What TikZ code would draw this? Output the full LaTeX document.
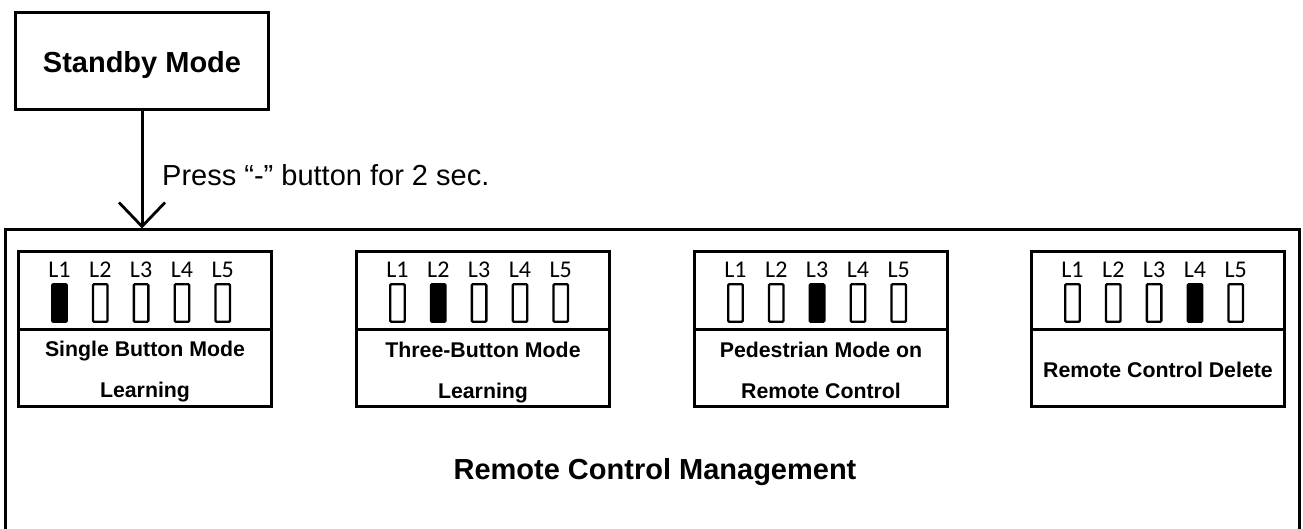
\documentclass[tikz,border=0pt]{standalone}
\usepackage{fontspec}
\setmainfont{Liberation Sans}
\newfontfamily\ledfont{Carlito}
\usetikzlibrary{arrows.meta}
\begin{document}
\begin{tikzpicture}[x=1pt,y=-1pt,
  box/.style={draw, line width=3pt, inner sep=0pt},
  ledbox/.style={draw, line width=2.3pt, minimum width=14.5pt, minimum height=37.5pt, inner sep=0pt, rounded corners=1pt},
  ledon/.style={ledbox, fill=black},
  ledlabel/.style={font=\ledfont\fontsize{24pt}{26pt}\selectfont, anchor=base, inner sep=0pt},
  cardtext/.style={font=\fontsize{21.3pt}{23pt}\selectfont\bfseries, anchor=base, inner sep=0pt},
  bigtext/.style={font=\fontsize{29pt}{31pt}\selectfont\bfseries, anchor=base, inner sep=0pt},
  flow/.style={line width=3pt, -{Straight Barb[length=24pt, width=46pt, line width=2.8pt]}}
]
\useasboundingbox (0,0) rectangle (1303,529);
\fill[white] (0,0) rectangle (1303,529);

% standby box
\node[box, minimum width=253pt, minimum height=97pt] (sb) at (142,61) {};
\node[bigtext] (sbt) at (142,73) {Standby Mode};

% management box
\node[box, minimum width=1294pt, minimum height=304pt] (mg) at (652,382) {};
\node[font=\fontsize{29pt}{31pt}\selectfont\bfseries, anchor=base, inner sep=0pt] (mgt) at (655,479) {Remote Control Management};

% connector
\draw[flow] (sb.south) -- (sb.south |- mg.north);
\node[font=\fontsize{29pt}{31pt}\selectfont, anchor=base west, inner sep=0pt] (lbl) at (162,186) {Press “-” button for 2 sec.};

% cards
\foreach \i/\x in {1/17,2/355,3/693,4/1030}{
  \node[box, minimum width=253pt, minimum height=155pt] (c\i) at (\x+128,329) {};
  \draw[line width=3pt] (c\i.west) -- (c\i.east);
  \foreach \k in {1,...,5}{
    \pgfmathsetmacro{\lx}{\x+42.5+40.8*(\k-1)}
    \ifnum\k=\i
      \node[ledon] (c\i led\k) at (\lx,303) {};
    \else
      \node[ledbox] (c\i led\k) at (\lx,303) {};
    \fi
    \node[ledlabel] (c\i lab\k) at (\lx,277) {L\k};
  }
}
\node[cardtext] (t1a) at (145,356) {Single Button Mode};
\node[cardtext] (t1b) at (145,397) {Learning};
\node[cardtext] (t2a) at (483,357) {Three-Button Mode};
\node[cardtext] (t2b) at (483,398) {Learning};
\node[cardtext] (t3a) at (821,357) {Pedestrian Mode on};
\node[cardtext] (t3b) at (821,398) {Remote Control};
\node[cardtext] (t4a) at (1158,377) {Remote Control Delete};
\end{tikzpicture}
\end{document}
